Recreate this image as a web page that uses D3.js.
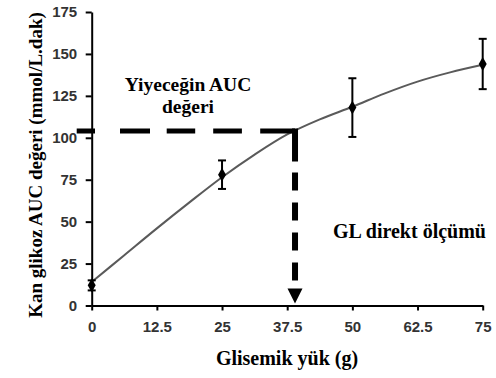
<!DOCTYPE html>
<html>
<head>
<meta charset="utf-8">
<script src="https://cdn.jsdelivr.net/npm/d3@7/dist/d3.min.js"></script>
<style>
  html, body { margin: 0; padding: 0; background: #fff; }
  svg { display: block; }
</style>
</head>
<body>
<svg id="chart" width="496" height="378"></svg>
<script>
// ---- data ----
const loadG = [0, 25, 50, 75];                 // glycemic load (g)
const aucMean = [12, 78, 118, 144];            // blood glucose AUC
const aucErr = [3, 8.5, 17.5, 15];             // error (±)
const fitX = [0, 6.25, 12.5, 18.75, 25, 31.25, 37.5, 43.75, 50, 56.25, 62.5, 68.75, 75];
const fitY = [14, 30, 46, 61.5, 76.5, 90, 102, 111, 118.5, 126.5, 133.5, 139, 143.5];
const foodAUC = 104;   // food AUC value (horizontal dashed)
const foodGL = 39;     // direct GL measure (vertical arrow)
const xTicks = [0, 12.5, 25, 37.5, 50, 62.5, 75];
const yTicks = [0, 25, 50, 75, 100, 125, 150, 175];

const svg = d3.select("#chart");
const x = d3.scaleLinear().domain([0, 75]).range([91.7, 482.7]);
const y = d3.scaleLinear().domain([0, 175]).range([305.5, 12]);

const tickFont = "'Liberation Sans', Arial, sans-serif";
const serif = "'Liberation Serif', 'Times New Roman', serif";

// axes
const xAxis = d3.axisBottom(x).tickValues(xTicks).tickSize(5).tickSizeOuter(0).tickPadding(11)
  .tickFormat(d => String(d));
const yAxis = d3.axisLeft(y).tickValues(yTicks).tickSize(6).tickSizeOuter(0).tickPadding(8.5)
  .tickFormat(d => String(d));

const gx = svg.append("g").attr("transform", `translate(0,${y(0)})`).call(xAxis);
const gy = svg.append("g").attr("transform", `translate(${x(0)},0)`).call(yAxis);
[gx, gy].forEach(g => {
  g.select(".domain").attr("stroke", "#000").attr("stroke-width", 2);
  g.selectAll(".tick line").attr("stroke", "#000").attr("stroke-width", 2);
  g.selectAll(".tick text").attr("fill", "#333").attr("font-size", 15)
    .attr("font-weight", "bold").attr("font-family", tickFont);
});

// fitted curve
const line = d3.line().x((d, i) => x(fitX[i])).y(d => y(d)).curve(d3.curveCatmullRom);
svg.append("path").datum(fitY).attr("d", line)
  .attr("fill", "none").attr("stroke", "#5a5a5a").attr("stroke-width", 2);

// error bars
const eb = svg.append("g");
loadG.forEach((g, i) => {
  const cx = x(g), top = y(aucMean[i] + aucErr[i]), bot = y(aucMean[i] - aucErr[i]);
  eb.append("line").attr("x1", cx).attr("x2", cx).attr("y1", top).attr("y2", bot)
    .attr("stroke", "#000").attr("stroke-width", 2);
  [top, bot].forEach(v => eb.append("line").attr("x1", cx - 4).attr("x2", cx + 4)
    .attr("y1", v).attr("y2", v).attr("stroke", "#000").attr("stroke-width", 2));
});
// markers (diamonds)
svg.append("g").selectAll("path").data(loadG).join("path")
  .attr("transform", (d, i) => `translate(${x(d)},${y(aucMean[i])})`)
  .attr("d", d3.symbol().type(d3.symbolDiamond).size(55))
  .attr("fill", "#000");

// dashed reference lines
const hx0 = 76.7, hy = y(foodAUC), vx = x(foodGL);
svg.append("line").attr("x1", hx0).attr("x2", vx).attr("y1", hy).attr("y2", hy)
  .attr("stroke", "#000").attr("stroke-width", 5)
  .attr("stroke-dasharray", "18.3,25,30,16.7,28.5,18,28.7,18.3,40");
svg.append("line").attr("x1", vx).attr("x2", vx).attr("y1", hy - 2.5).attr("y2", y(0) - 12)
  .attr("stroke", "#000").attr("stroke-width", 6)
  .attr("stroke-dasharray", "33,11,18,12,18,12,18,12,18,12,40");
// arrow head
const ay = y(0) - 2;
svg.append("path")
  .attr("d", `M${vx - 7.5},${ay - 15} L${vx + 7.5},${ay - 15} L${vx},${ay} Z`)
  .attr("fill", "#000");

// annotation texts
svg.append("text").attr("x", 188).attr("y", 91).attr("text-anchor", "middle")
  .attr("font-family", serif).attr("font-weight", "bold").attr("font-size", 19.5)
  .attr("fill", "#000").text("Yiyeceğin AUC");
svg.append("text").attr("x", 188).attr("y", 113).attr("text-anchor", "middle")
  .attr("font-family", serif).attr("font-weight", "bold").attr("font-size", 19.5)
  .attr("fill", "#000").text("değeri");
svg.append("text").attr("x", 333).attr("y", 238).attr("text-anchor", "start")
  .attr("font-family", serif).attr("font-weight", "bold").attr("font-size", 20)
  .attr("fill", "#000").text("GL direkt ölçümü");

// axis titles
svg.append("text").attr("x", 287).attr("y", 365).attr("text-anchor", "middle")
  .attr("font-family", serif).attr("font-weight", "bold").attr("font-size", 20)
  .attr("fill", "#000").text("Glisemik yük (g)");
svg.append("text").attr("transform", "translate(42,165) rotate(-90)").attr("text-anchor", "middle")
  .attr("font-family", serif).attr("font-weight", "bold").attr("font-size", 19)
  .attr("fill", "#000").text("Kan glikoz AUC değeri (mmol/L.dak)");
</script>
</body>
</html>
